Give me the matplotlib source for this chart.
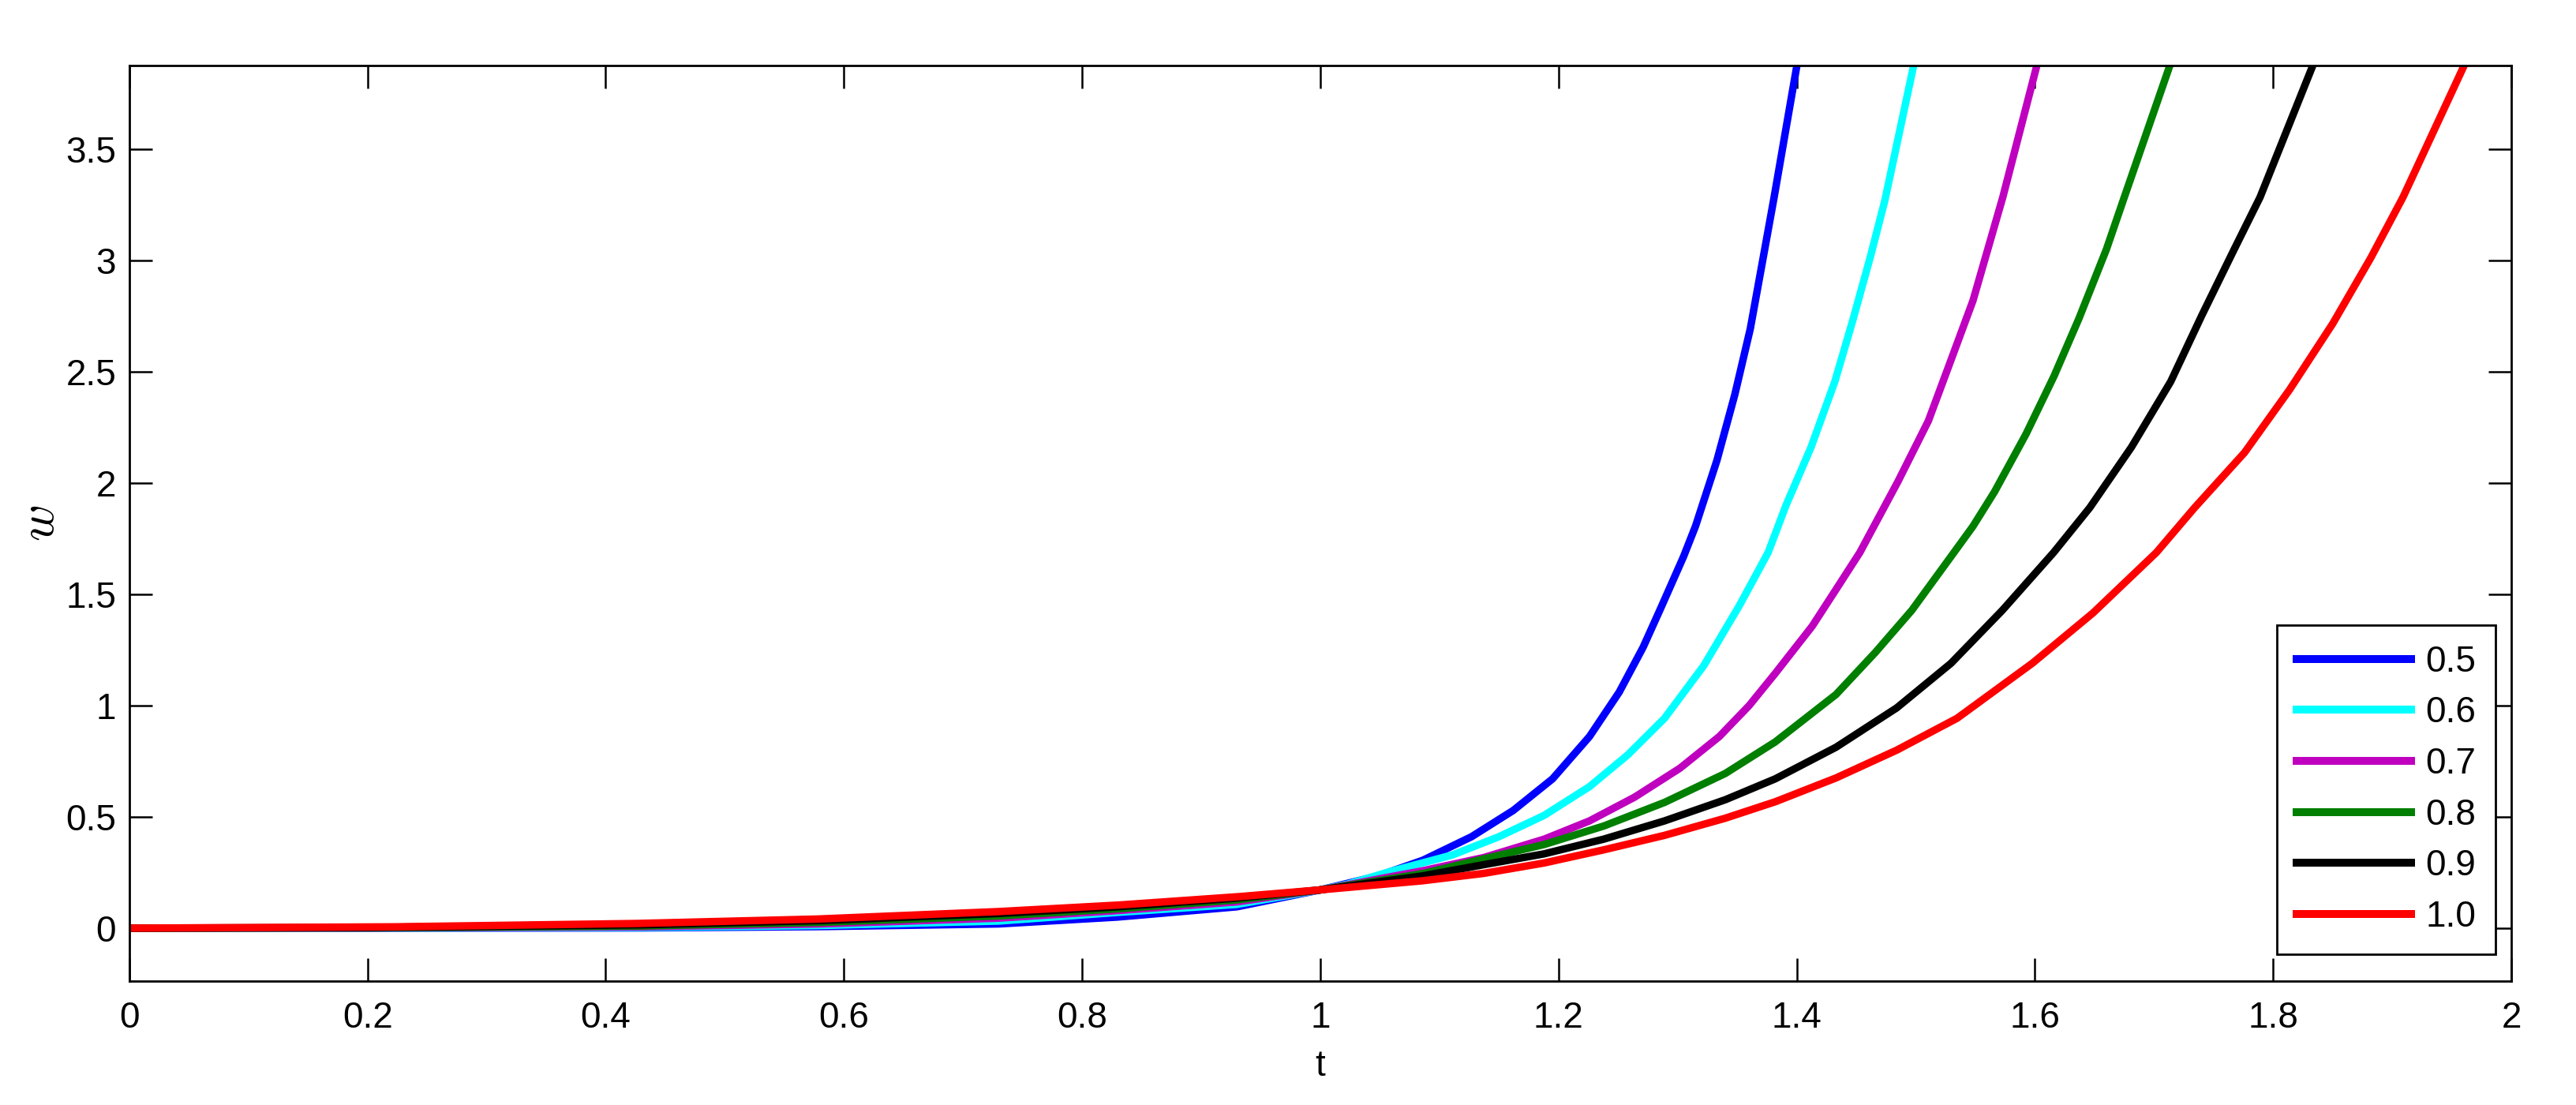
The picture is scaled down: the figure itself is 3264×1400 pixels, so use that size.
import matplotlib
matplotlib.use('Agg')
import matplotlib.pyplot as plt
from matplotlib.ticker import FuncFormatter
import numpy as np

plt.rcParams['font.family'] = ['Liberation Sans', 'DejaVu Sans']
plt.rcParams['mathtext.fontset'] = 'cm'

# values, one (t, w) list pair per order
labels = ['0.5', '0.6', '0.7', '0.8', '0.9', '1.0']
colors = ['#0000ff', '#00ffff', '#bf00bf', '#007f00', '#000000', '#ff0000']

t_05 = [0, 0.2, 0.43, 0.58, 0.73, 0.83, 0.93, 1.0, 1.048, 1.086, 1.127, 1.162, 1.195, 1.226,
        1.251, 1.271, 1.286, 1.305, 1.315, 1.333, 1.348, 1.361, 1.371, 1.381, 1.400]
w_05 = [0, 0.0001, 0.001, 0.007, 0.019, 0.05, 0.096, 0.172, 0.234, 0.305, 0.411, 0.529, 0.671, 0.861,
        1.061, 1.262, 1.44, 1.67, 1.806, 2.102, 2.397, 2.693, 2.988, 3.284, 3.872]

t_06 = [0, 0.2, 0.43, 0.58, 0.73, 0.83, 0.93, 1.0, 1.023, 1.061, 1.111, 1.15, 1.188, 1.226, 1.258,
        1.289, 1.322, 1.352, 1.376, 1.391, 1.412, 1.432, 1.447, 1.462, 1.474, 1.498]
w_06 = [0, 0.0003, 0.003, 0.012, 0.032, 0.071, 0.107, 0.172, 0.198, 0.258, 0.329, 0.411, 0.507, 0.636, 0.778,
        0.943, 1.18, 1.451, 1.688, 1.9, 2.161, 2.456, 2.73, 3.02, 3.27, 3.872]

t_07 = [0, 0.2, 0.43, 0.58, 0.73, 0.83, 0.93, 1.0, 1.035, 1.086, 1.137, 1.188, 1.226, 1.264, 1.302,
        1.335, 1.36, 1.382, 1.413, 1.433, 1.453, 1.485, 1.5105, 1.531, 1.548, 1.573, 1.6014]
w_07 = [0, 0.0007, 0.006, 0.019, 0.045, 0.079, 0.118, 0.172, 0.207, 0.258, 0.317, 0.40, 0.482, 0.589, 0.719,
        0.861, 1.0, 1.145, 1.357, 1.522, 1.688, 2.007, 2.279, 2.574, 2.82, 3.284, 3.872]

t_08 = [0, 0.2, 0.43, 0.58, 0.73, 0.83, 0.93, 1.0, 1.086, 1.137, 1.188, 1.238, 1.289, 1.34, 1.382,
        1.433, 1.466, 1.4966, 1.532, 1.548, 1.566, 1.5925, 1.616, 1.637, 1.660, 1.675, 1.713]
w_08 = [0, 0.0015, 0.010, 0.026, 0.055, 0.087, 0.127, 0.172, 0.245, 0.311, 0.376, 0.459, 0.565, 0.695, 0.837,
        1.05, 1.239, 1.428, 1.688, 1.806, 1.96, 2.22, 2.48, 2.74, 3.05, 3.284, 3.872]

t_09 = [0, 0.2, 0.43, 0.58, 0.73, 0.83, 0.93, 1.0, 1.086, 1.137, 1.188, 1.238, 1.289, 1.34, 1.382,
        1.433, 1.484, 1.5295, 1.5726, 1.6157, 1.646, 1.681, 1.714, 1.740, 1.767, 1.789, 1.833]
w_09 = [0, 0.003, 0.015, 0.034, 0.066, 0.096, 0.135, 0.172, 0.235, 0.285, 0.334, 0.40, 0.482, 0.577, 0.671,
        0.813, 0.99, 1.19, 1.428, 1.688, 1.889, 2.161, 2.456, 2.752, 3.047, 3.284, 3.872]

t_10 = [0, 0.2227, 0.4254, 0.5776, 0.7297, 0.831, 0.9325, 1.0, 1.086, 1.137, 1.188, 1.238, 1.289, 1.34,
        1.382, 1.433, 1.484, 1.5346, 1.598, 1.6487, 1.702, 1.734, 1.776, 1.814, 1.850, 1.882, 1.909, 1.960]
w_10 = [0, 0.006, 0.021, 0.041, 0.0745, 0.104, 0.142, 0.172, 0.213, 0.246, 0.293, 0.352, 0.417, 0.494,
        0.568, 0.675, 0.80, 0.943, 1.191, 1.416, 1.688, 1.889, 2.137, 2.421, 2.716, 3.012, 3.284, 3.872]

ts = [t_05, t_06, t_07, t_08, t_09, t_10]
ws = [w_05, w_06, w_07, w_08, w_09, w_10]

fig = plt.figure(figsize=(16.32, 7), dpi=200)
ax = fig.add_axes([0.0502, 0.1121, 0.9247, 0.8286])

for t, w, c, lab in zip(ts, ws, colors, labels):
    ax.plot(t, w, color=c, lw=3.4, label=lab, solid_joinstyle='round')

ax.set_xlim(0, 2)
ax.set_ylim(-0.238, 3.876)
ax.set_xticks(np.arange(0, 2.01, 0.2))
ax.set_yticks(np.arange(0, 3.51, 0.5))
fmt = FuncFormatter(lambda v, p: '%g' % round(v, 2))
ax.xaxis.set_major_formatter(fmt)
ax.yaxis.set_major_formatter(fmt)
ax.tick_params(direction='in', length=10.4, width=0.9, top=True, right=True, labelsize=16.5)
ax.tick_params(axis='x', pad=9)
ax.tick_params(axis='y', pad=6)
for s in ax.spines.values():
    s.set_linewidth(1.0)

ax.set_xlabel('t', fontsize=16.5, labelpad=6)
ax.set_ylabel('$w$', fontsize=23, labelpad=1)

leg = ax.legend(loc='lower right', bbox_to_anchor=(0.9934, 0.0293), borderaxespad=0,
                fontsize=16.5, handlelength=3.15, handletextpad=0.4, labelspacing=0.45,
                borderpad=0.55, fancybox=False, framealpha=1, edgecolor='black')
leg.get_frame().set_linewidth(1.0)
for line in leg.get_lines():
    line.set_linewidth(3.6)

fig.savefig('out.png', dpi=200)
